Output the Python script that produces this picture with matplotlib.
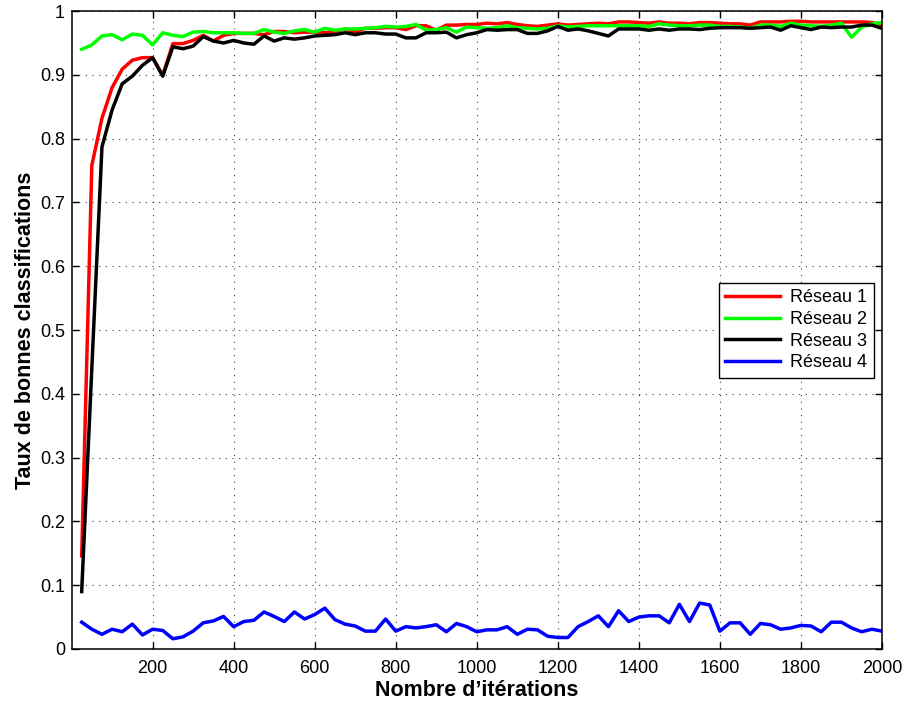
import matplotlib.pyplot as plt
import numpy as np

# ---------- Data ----------
iterations = np.arange(25, 2001, 25)

reseau1 = [0.146, 0.758, 0.832, 0.880, 0.909, 0.923, 0.927, 0.927, 0.899, 0.949,
           0.949, 0.954, 0.962, 0.953, 0.962, 0.965, 0.965, 0.965, 0.963, 0.968,
           0.968, 0.966, 0.967, 0.967, 0.966, 0.968, 0.972, 0.967, 0.973, 0.973,
           0.974, 0.974, 0.971, 0.977, 0.977, 0.970, 0.978, 0.978, 0.979, 0.979,
           0.981, 0.980, 0.982, 0.979, 0.977, 0.976, 0.978, 0.980, 0.978, 0.979,
           0.980, 0.981, 0.980, 0.983, 0.983, 0.982, 0.981, 0.983, 0.981, 0.981,
           0.980, 0.982, 0.982, 0.981, 0.980, 0.980, 0.978, 0.983, 0.983, 0.983,
           0.984, 0.984, 0.983, 0.983, 0.983, 0.983, 0.983, 0.983, 0.982, 0.979]

reseau2 = [0.940, 0.947, 0.961, 0.963, 0.955, 0.964, 0.962, 0.947, 0.966, 0.962,
           0.960, 0.967, 0.968, 0.966, 0.966, 0.966, 0.965, 0.965, 0.971, 0.967,
           0.965, 0.969, 0.971, 0.967, 0.973, 0.970, 0.972, 0.972, 0.973, 0.974,
           0.976, 0.975, 0.976, 0.979, 0.970, 0.971, 0.974, 0.967, 0.975, 0.974,
           0.973, 0.974, 0.977, 0.974, 0.973, 0.972, 0.973, 0.977, 0.975, 0.976,
           0.977, 0.977, 0.977, 0.977, 0.977, 0.977, 0.976, 0.980, 0.978, 0.977,
           0.977, 0.978, 0.978, 0.976, 0.976, 0.975, 0.973, 0.978, 0.978, 0.976,
           0.981, 0.978, 0.977, 0.976, 0.978, 0.981, 0.959, 0.975, 0.980, 0.982]

reseau3 = [0.090, 0.440, 0.787, 0.845, 0.886, 0.898, 0.915, 0.927, 0.898, 0.944,
           0.941, 0.945, 0.960, 0.953, 0.950, 0.954, 0.950, 0.948, 0.961, 0.953,
           0.958, 0.956, 0.958, 0.961, 0.962, 0.963, 0.966, 0.963, 0.966, 0.966,
           0.964, 0.964, 0.958, 0.958, 0.966, 0.966, 0.967, 0.958, 0.963, 0.966,
           0.971, 0.970, 0.971, 0.971, 0.965, 0.965, 0.969, 0.976, 0.970, 0.972,
           0.969, 0.965, 0.961, 0.972, 0.972, 0.972, 0.970, 0.972, 0.970, 0.972,
           0.972, 0.971, 0.973, 0.974, 0.974, 0.974, 0.973, 0.974, 0.975, 0.970,
           0.977, 0.974, 0.971, 0.975, 0.974, 0.975, 0.975, 0.978, 0.978, 0.973]

reseau4 = [0.042, 0.031, 0.023, 0.031, 0.027, 0.039, 0.022, 0.031, 0.029, 0.016,
           0.019, 0.028, 0.041, 0.044, 0.051, 0.035, 0.043, 0.045, 0.058, 0.051,
           0.043, 0.058, 0.047, 0.054, 0.064, 0.046, 0.039, 0.036, 0.028, 0.028,
           0.047, 0.028, 0.035, 0.033, 0.035, 0.038, 0.027, 0.040, 0.035, 0.027,
           0.030, 0.030, 0.035, 0.023, 0.031, 0.030, 0.020, 0.018, 0.018, 0.035,
           0.043, 0.052, 0.035, 0.060, 0.043, 0.050, 0.052, 0.052, 0.041, 0.070,
           0.043, 0.072, 0.069, 0.028, 0.041, 0.041, 0.023, 0.040, 0.038, 0.031,
           0.033, 0.037, 0.036, 0.027, 0.042, 0.042, 0.033, 0.027, 0.031, 0.028]

series = [(reseau1, '#ff0000', 'Réseau 1'),
          (reseau2, '#00ff00', 'Réseau 2'),
          (reseau3, '#000000', 'Réseau 3'),
          (reseau4, '#0000ff', 'Réseau 4')]

xticks = [200, 400, 600, 800, 1000, 1200, 1400, 1600, 1800, 2000]
yticks = [0, 0.1, 0.2, 0.3, 0.4, 0.5, 0.6, 0.7, 0.8, 0.9, 1]
ytick_labels = ['0', '0.1', '0.2', '0.3', '0.4', '0.5', '0.6', '0.7', '0.8', '0.9', '1']

# ---------- Figure ----------
plt.rcParams['font.family'] = ['Liberation Sans', 'DejaVu Sans']
fig = plt.figure(figsize=(9.03, 7.01), dpi=100)
ax = fig.add_axes([0.0797, 0.0742, 0.897, 0.910])

for vals, col, lab in series:
    ax.plot(iterations, vals, color=col, lw=2.5, label=lab)

ax.set_xlim(1, 2000)
ax.set_ylim(0, 1)
ax.set_xticks(xticks)
ax.set_yticks(yticks)
ax.set_yticklabels(ytick_labels)
ax.tick_params(direction='in', top=True, right=True, length=5, width=1, labelsize=13)
ax.tick_params(axis='x', pad=8)
ax.tick_params(axis='y', pad=5)
for s in ax.spines.values():
    s.set_linewidth(1.1)

ax.grid(True, color='0.25', linestyle=(0, (1, 5)), linewidth=0.8)

ax.set_xlabel('Nombre d’itérations', fontsize=15.5, fontweight='bold', labelpad=2)
ax.set_ylabel('Taux de bonnes classifications', fontsize=15.5, fontweight='bold', labelpad=3)

leg = ax.legend(loc='upper left', bbox_to_anchor=(0.799, 0.574), fontsize=13,
                fancybox=False, framealpha=1, edgecolor='black',
                handlelength=3.0, borderpad=0.35, labelspacing=0.26, handletextpad=0.6,
                borderaxespad=0)
leg.get_frame().set_linewidth(1.0)

fig.savefig('out.png', dpi=100)
